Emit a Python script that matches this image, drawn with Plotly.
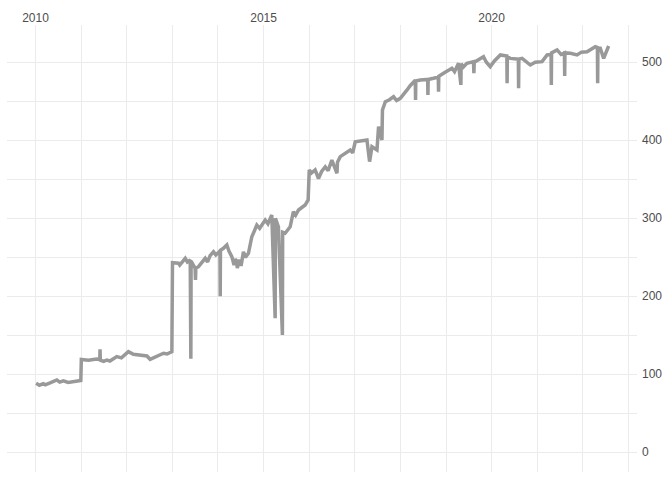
import plotly.graph_objects as go

# ---------- data ----------
dates = [
    "2010-01-06", "2010-02-01", "2010-03-05", "2010-03-20", "2010-04-28", "2010-06-21", "2010-07-15",
    "2010-08-12", "2010-09-20", "2010-11-27", "2010-12-30",
    "2011-01-03", "2011-03-01", "2011-05-06", "2011-05-31", "2011-06-02", "2011-06-04", "2011-07-01",
    "2011-07-26", "2011-08-20", "2011-10-14", "2011-11-20",
    "2012-01-15", "2012-02-24", "2012-04-10", "2012-06-11", "2012-07-07", "2012-08-30", "2012-10-22",
    "2012-11-20", "2012-12-28",
    "2013-01-02", "2013-02-19", "2013-03-01", "2013-04-14", "2013-05-01", "2013-05-24", "2013-05-29",
    "2013-05-31", "2013-07-02", "2013-07-05", "2013-07-08", "2013-07-29", "2013-08-20", "2013-09-21",
    "2013-10-10", "2013-10-30", "2013-11-26", "2013-12-15",
    "2014-01-17", "2014-01-19", "2014-01-21", "2014-02-14", "2014-03-13", "2014-03-30", "2014-04-22",
    "2014-05-10", "2014-05-20", "2014-06-01", "2014-06-05", "2014-06-20", "2014-07-05", "2014-07-24",
    "2014-08-10", "2014-09-02", "2014-09-29", "2014-10-15", "2014-11-08", "2014-12-01",
    "2015-01-14", "2015-02-05", "2015-03-08", "2015-04-04", "2015-04-06", "2015-04-30", "2015-06-01",
    "2015-06-03", "2015-06-23", "2015-08-02", "2015-08-28", "2015-09-15", "2015-10-08", "2015-11-30",
    "2015-12-24",
    "2016-01-02", "2016-01-20", "2016-02-18", "2016-03-16", "2016-04-10", "2016-05-09", "2016-06-01",
    "2016-07-01", "2016-08-11", "2016-08-15", "2016-09-06", "2016-10-10", "2016-11-25", "2016-12-15",
    "2017-01-04", "2017-04-08", "2017-04-29", "2017-05-18", "2017-06-27", "2017-07-10", "2017-08-06",
    "2017-08-10", "2017-09-02", "2017-10-05", "2017-11-07", "2017-12-01", "2017-12-31",
    "2018-02-23", "2018-03-20", "2018-04-30", "2018-05-02", "2018-05-04", "2018-06-09", "2018-08-07",
    "2018-08-09", "2018-08-11", "2018-09-23", "2018-10-31", "2018-11-02", "2018-11-04", "2018-12-12",
    "2019-02-17", "2019-03-10", "2019-04-11", "2019-04-30", "2019-05-02", "2019-05-20", "2019-06-17",
    "2019-08-09", "2019-08-12", "2019-08-15", "2019-10-28", "2019-11-20", "2019-12-21",
    "2020-01-25", "2020-03-11", "2020-05-02", "2020-05-04", "2020-05-06", "2020-05-30", "2020-08-02",
    "2020-08-04", "2020-08-06", "2020-09-01", "2020-11-06", "2020-12-15",
    "2021-02-08", "2021-03-20", "2021-04-21", "2021-04-23", "2021-04-25", "2021-06-08", "2021-07-10",
    "2021-08-06", "2021-08-08", "2021-08-10", "2021-09-23", "2021-11-15", "2021-12-20",
    "2022-02-03", "2022-04-10", "2022-04-27", "2022-04-29", "2022-05-01", "2022-05-20", "2022-06-16",
    "2022-07-26",
]
values = [
    88.5, 86, 88, 86.5, 89, 92.7, 90,
    91.5, 89.5, 91.4, 92,
    119, 118, 119.5, 119, 132, 118, 116.5,
    118.3, 117, 122.6, 121,
    129, 125.6, 124.5, 123.5, 119.2, 123.5, 127,
    126, 129,
    243, 242.3, 240, 248.7, 244, 246.5, 120,
    245, 236, 221, 236, 238, 243, 248.7,
    244, 252, 257, 253,
    258, 200, 259, 261.5, 265.8, 258, 250.8,
    240, 248, 242.3, 236, 247, 239, 257,
    250, 255, 276.4, 282, 291.4, 287,
    297.8, 293, 304.2, 171.8, 300, 289, 150.4,
    282, 280.8, 289, 308.5, 304, 310.6, 317,
    323.5,
    362, 358, 362, 351, 360, 366, 361,
    374.7, 357.7, 372, 379, 383, 387.6, 384,
    398, 400.4, 372.6, 391.8, 387.6, 417.4, 400.4,
    438.8, 449.5, 452, 455.9, 451, 453.8,
    464.5, 470, 477, 451.7, 476, 477.3, 478,
    458, 478, 479.5, 481, 462.3, 482, 486,
    492.3, 488, 498.7, 471, 498, 494, 498.7,
    500.8, 486, 500, 507.2, 500, 494.4,
    502, 509.4, 508, 473, 507, 505, 504,
    466.7, 504, 505, 496.5, 500,
    500.8, 509.4, 510, 471, 512, 515.8, 510,
    512, 482.4, 512, 511.5, 509.4, 513,
    513.6, 520, 519, 473, 518, 518, 505,
    520.9,
]

x_labels = ["2010-01-01", "2015-01-01", "2020-01-01"]
x_text = ["2010", "2015", "2020"]

fig = go.Figure()
fig.add_trace(go.Scatter(
    x=dates, y=values,
    mode="lines",
    line=dict(color="#999999", width=3.5),
    hoverinfo="x+y",
    showlegend=False,
))

grid = "#ebebeb"
fig.update_layout(
    width=672, height=480,
    margin=dict(l=7, r=35, t=25, b=8),
    paper_bgcolor="white",
    plot_bgcolor="white",
    font=dict(family="Liberation Sans, Arial, sans-serif", size=12, color="#4d4d4d"),
    xaxis=dict(
        type="date",
        side="top",
        range=["2009-05-18", "2023-03-10"],
        tickvals=x_labels, ticktext=x_text,
        showgrid=True, gridcolor=grid, gridwidth=1,
        minor=dict(dtick="M12", tick0="2010-01-01", showgrid=True, gridcolor=grid, gridwidth=1),
        zeroline=False, showline=False, ticks="",
        automargin=False,
    ),
    yaxis=dict(
        side="right",
        range=[-25.3, 547.8],
        dtick=100, tick0=0,
        showgrid=True, gridcolor=grid, gridwidth=1,
        minor=dict(dtick=50, showgrid=True, gridcolor=grid, gridwidth=1),
        zeroline=False, showline=False, ticks="",
        ticklabelstandoff=4,
        automargin=False,
    ),
)

# page body has a default 8px margin; drop it so the figure sits at the window corner
fig.write_html("out.html", config={"displayModeBar": False},
               post_script="document.body.style.margin='0';")
